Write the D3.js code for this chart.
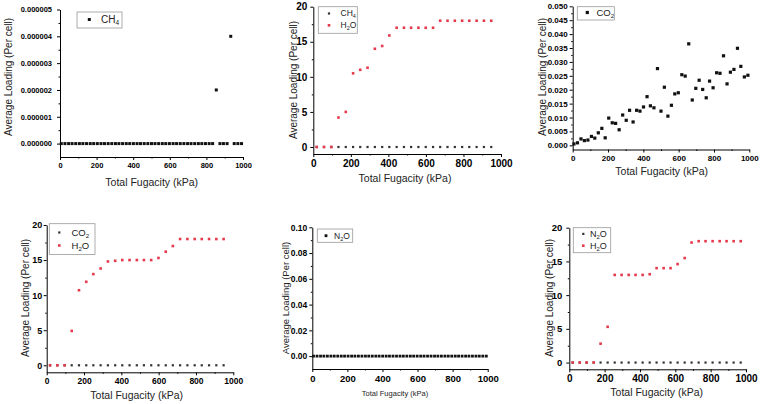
<!DOCTYPE html>
<html>
<head>
<meta charset="utf-8">
<script src="https://cdn.jsdelivr.net/npm/d3@7"></script>
<style>
  body { margin: 0; background: #fff; }
  svg { display: block; font-family: "Liberation Sans", Arial, sans-serif; }
</style>
</head>
<body>
<svg id="chart" width="760" height="404"></svg>
<script>
// ---- data ----
// fine fugacity grid (kPa), 51 points
const xFine = [7, 27, 47, 66, 86, 106, 125, 145, 165, 184, 204, 224, 243, 263, 283, 303, 322,
  342, 362, 381, 401, 421, 440, 460, 480, 500, 519, 539, 559, 578, 598, 618, 637, 657,
  677, 697, 716, 736, 756, 775, 795, 815, 834, 854, 874, 893, 913, 933, 952, 972, 992];
// coarse grids (kPa), 25 points
const xCoarseA = [18, 57, 96, 134, 173, 212, 250, 289, 328, 367, 405, 444, 483, 521, 560,
  599, 638, 676, 715, 754, 793, 831, 870, 909, 948];
const xCoarseB = [19, 59, 98, 138, 177, 217, 257, 296, 336, 375, 415, 455, 494, 534, 573,
  613, 653, 692, 732, 771, 811, 851, 890, 930, 970];

// (a) pure CH4
const ch4Pure = [0, 0, 0, 0, 0, 0, 0, 0, 0, 0, 0, 0, 0, 0, 0, 0, 0, 0, 0, 0, 0, 0, 0, 0, 0,
  0, 0, 0, 0, 0, 0, 0, 0, 0, 0, 0, 0, 0, 0, 0, 0, 0, 0, 0.000002, 0, 0, 0, 0.000004, 0, 0, 0];
// (b) CH4 / H2O mixture
const ch4Mix = [0, 0, 0, 0, 0, 0, 0, 0, 0, 0, 0, 0, 0, 0, 0, 0, 0, 0, 0, 0, 0, 0, 0, 0, 0];
const h2oWithCh4 = [0, 0, 0, 4.2, 5.0, 10.5, 11.0, 11.3, 14.0, 14.4, 15.9, 17, 17, 17, 17, 17,
  17, 18, 18, 18, 18, 18, 18, 18, 18];
// (c) pure CO2
const co2Pure = [0.0005, 0.0009, 0.0023, 0.0017, 0.0019, 0.0032, 0.0026, 0.0045, 0.0061, 0.0027,
  0.0098, 0.0081, 0.0079, 0.0056, 0.0109, 0.0090, 0.0126, 0.0084, 0.0126, 0.0123, 0.0138,
  0.0175, 0.0142, 0.0135, 0.0276, 0.0123, 0.0209, 0.0105, 0.0144, 0.0185, 0.0189, 0.0254,
  0.0249, 0.0365, 0.0163, 0.0205, 0.0234, 0.0201, 0.0171, 0.0231, 0.0207, 0.0261, 0.0259,
  0.0322, 0.0221, 0.0263, 0.0273, 0.0349, 0.0284, 0.0246, 0.0252];
// (d) CO2 / H2O mixture
const co2Mix = [0, 0, 0, 0, 0, 0, 0, 0, 0, 0, 0, 0, 0, 0, 0, 0, 0, 0, 0, 0, 0, 0, 0, 0, 0];
const h2oWithCo2 = [0, 0, 0, 4.9, 10.7, 11.9, 13.0, 13.8, 14.8, 14.9, 15.0, 15.0, 15.0, 15.0,
  15.0, 15.3, 16.2, 17.0, 18, 18, 18, 18, 18, 18, 18];
// (e) pure N2O
const n2oPure = [0, 0, 0, 0, 0, 0, 0, 0, 0, 0, 0, 0, 0, 0, 0, 0, 0, 0, 0, 0, 0, 0, 0, 0, 0,
  0, 0, 0, 0, 0, 0, 0, 0, 0, 0, 0, 0, 0, 0, 0, 0, 0, 0, 0, 0, 0, 0, 0, 0, 0, 0];
// (f) N2O / H2O mixture
const n2oMix = [0, 0, 0, 0, 0, 0, 0, 0, 0, 0, 0, 0, 0, 0, 0, 0, 0, 0, 0, 0, 0, 0, 0, 0, 0];
const h2oWithN2o = [0, 0, 0, 0, 2.8, 5.3, 13, 13, 13, 13, 13, 13.1, 14, 14, 14, 14.6, 15.5,
  17.8, 18, 18, 18, 18, 18, 18, 18];

// tick values
const xTicks = [0, 200, 400, 600, 800, 1000];
const xMinor = [100, 300, 500, 700, 900];
const yTicksSmall = [0, 0.000001, 0.000002, 0.000003, 0.000004, 0.000005];
const yTicksCo2 = [0, 0.005, 0.010, 0.015, 0.020, 0.025, 0.030, 0.035, 0.040, 0.045, 0.050];
const yTicksN2o = [0, 0.02, 0.04, 0.06, 0.08, 0.10];
const yTicksH2o = [0, 5, 10, 15, 20];

// legend labels, split into [text, isSubscript]
const lblCH4 = [["CH", false], ["4", true]];
const lblCO2 = [["CO", false], ["2", true]];
const lblN2O = [["N", false], ["2", true], ["O", false]];
const lblH2O = [["H", false], ["2", true], ["O", false]];

const BLACK = "#111";
const GREY = "#333";
const RED = "#e63a4c";

const svg = d3.select("#chart");

function midpoints(arr) {
  const out = [];
  for (let i = 0; i < arr.length - 1; i++) out.push((arr[i] + arr[i + 1]) / 2);
  return out;
}

function drawPanel(p) {
  const x = d3.scaleLinear().domain([0, 1000]).range([p.x0, p.x1]);
  const y = d3.scaleLinear().domain(p.yDomain).range([p.yB, p.yT]);
  const g = svg.append("g");

  // bottom axis + minor ticks
  const xa = g.append("g").attr("transform", `translate(0,${p.yB})`)
    .call(d3.axisBottom(x).tickValues(xTicks).tickSize(3).tickSizeOuter(0)
      .tickPadding(p.xPad).tickFormat(d3.format("d")));
  g.append("g").attr("transform", `translate(0,${p.yB})`)
    .call(d3.axisBottom(x).tickValues(xMinor).tickSize(1.5).tickFormat(""))
    .select(".domain").remove();

  // left axis + minor ticks
  const ya = g.append("g").attr("transform", `translate(${p.x0},0)`)
    .call(d3.axisLeft(y).tickValues(p.yTicks).tickSize(3).tickSizeOuter(0)
      .tickPadding(p.yPad).tickFormat(d3.format(p.yFmt)));
  g.append("g").attr("transform", `translate(${p.x0},0)`)
    .call(d3.axisLeft(y).tickValues(midpoints(p.yTicks)).tickSize(1.5).tickFormat(""))
    .select(".domain").remove();

  g.selectAll(".domain").attr("stroke", "#000").attr("stroke-width", 1);
  g.selectAll(".tick line").attr("stroke", "#000");
  xa.selectAll("text").attr("font-size", p.xTickFont);
  ya.selectAll("text").attr("font-size", p.yTickFont);
  [xa, ya].forEach(a => a.selectAll("text")
    .attr("font-family", "'Liberation Sans', Arial, sans-serif")
    .attr("font-weight", "bold").attr("fill", "#000"));

  // axis titles
  g.append("text")
    .attr("x", p.xTitle[0]).attr("y", p.xTitle[1])
    .attr("text-anchor", "middle").attr("dominant-baseline", "central")
    .attr("font-size", p.xTitleFont).attr("fill", "#222")
    .text("Total Fugacity (kPa)");
  g.append("text")
    .attr("transform", `translate(${p.yTitle[0]},${p.yTitle[1]}) rotate(-90)`)
    .attr("text-anchor", "middle").attr("dominant-baseline", "central")
    .attr("font-size", p.yTitleFont).attr("fill", "#222")
    .text("Average Loading (Per cell)");

  // series markers
  p.series.forEach(s => {
    g.append("g").selectAll("rect")
      .data(s.xs.map((xv, i) => [xv, s.ys[i]]))
      .join("rect")
      .attr("x", d => x(d[0]) - s.size / 2)
      .attr("y", d => y(d[1]) - s.size / 2)
      .attr("width", s.size).attr("height", s.size)
      .attr("fill", s.color);
  });

  // legend
  const L = p.legend;
  g.append("rect")
    .attr("x", L.x).attr("y", L.y).attr("width", L.w).attr("height", L.h)
    .attr("fill", "#fff").attr("stroke", "#9a9a9a").attr("stroke-width", 0.8);
  p.series.forEach((s, i) => {
    const cy = L.y + L.rowY[i];
    g.append("rect")
      .attr("x", L.mx - s.size / 2).attr("y", cy - s.size / 2)
      .attr("width", s.size).attr("height", s.size).attr("fill", s.color);
    const t = g.append("text")
      .attr("x", L.tx).attr("y", cy + L.font * 0.35)
      .attr("font-size", L.font).attr("fill", "#222");
    let shifted = false;
    s.label.forEach(([txt, sub]) => {
      const ts = t.append("tspan").text(txt);
      if (sub && !shifted) { ts.attr("dy", L.font * 0.22).attr("font-size", L.font * 0.65); shifted = true; }
      else if (!sub && shifted) { ts.attr("dy", -L.font * 0.22); shifted = false; }
    });
  });
}

const panels = [
  { x0: 60, x1: 243, yB: 157, yT: 9.5, yDomain: [-0.0000005, 0.000005],
    yTicks: yTicksSmall, yFmt: ".6f", xTickFont: 7.5, yTickFont: 7.5, xPad: 3, yPad: 5,
    xTitle: [151.7, 182], xTitleFont: 10.5, yTitle: [8.5, 77], yTitleFont: 10,
    legend: { x: 77, y: 12, w: 45, h: 16, mx: 89.3, tx: 101, rowY: [7.5], font: 10 },
    series: [{ xs: xFine, ys: ch4Pure, color: BLACK, size: 3, label: lblCH4 }] },
  { x0: 313.3, x1: 501, yB: 154, yT: 6.7, yDomain: [-1, 20],
    yTicks: yTicksH2o, yFmt: "d", xTickFont: 10, yTickFont: 10, xPad: 3, yPad: 3,
    xTitle: [405, 178], xTitleFont: 10.5, yTitle: [293.5, 80], yTitleFont: 10,
    legend: { x: 318.3, y: 6.7, w: 39, h: 26.6, mx: 329, tx: 340.5, rowY: [6.8, 18.6], font: 8.5 },
    series: [{ xs: xCoarseA, ys: ch4Mix, color: GREY, size: 2.2, label: lblCH4 },
             { xs: xCoarseA, ys: h2oWithCh4, color: RED, size: 2.6, label: lblH2O }] },
  { x0: 572.7, x1: 749.3, yB: 149.5, yT: 6.3, yDomain: [-0.0015, 0.05],
    yTicks: yTicksCo2, yFmt: ".3f", xTickFont: 8, yTickFont: 8, xPad: 3, yPad: 2,
    xTitle: [661.7, 171], xTitleFont: 10.5, yTitle: [542.3, 77], yTitleFont: 10,
    legend: { x: 577.3, y: 6.7, w: 37, h: 13.3, mx: 587.3, tx: 596.5, rowY: [5.8], font: 9.5 },
    series: [{ xs: xFine, ys: co2Pure, color: BLACK, size: 3.2, label: lblCO2 }] },
  { x0: 46.7, x1: 233.3, yB: 372.3, yT: 225, yDomain: [-1, 20],
    yTicks: yTicksH2o, yFmt: "d", xTickFont: 8.5, yTickFont: 9, xPad: 3, yPad: 1.5,
    xTitle: [136.7, 395], xTitleFont: 10.5, yTitle: [25, 298], yTitleFont: 10,
    legend: { x: 49.3, y: 223.7, w: 45.7, h: 30.8, mx: 59.3, tx: 71.5, rowY: [8.8, 21.8], font: 9.5 },
    series: [{ xs: xCoarseA, ys: co2Mix, color: GREY, size: 2.2, label: lblCO2 },
             { xs: xCoarseA, ys: h2oWithCo2, color: RED, size: 2.6, label: lblH2O }] },
  { x0: 312.3, x1: 487.7, yB: 369, yT: 227.3, yDomain: [-0.01, 0.1],
    yTicks: yTicksN2o, yFmt: ".2f", xTickFont: 9.5, yTickFont: 8.5, xPad: 3, yPad: 2,
    xTitle: [395, 393], xTitleFont: 7.5, yTitle: [285.7, 298], yTitleFont: 9.5,
    legend: { x: 317.3, y: 229, w: 35.4, h: 13.3, mx: 326, tx: 334, rowY: [6.7], font: 8.5 },
    series: [{ xs: xFine, ys: n2oPure, color: BLACK, size: 2.8, label: lblN2O }] },
  { x0: 569.3, x1: 746, yB: 369.3, yT: 227.7, yDomain: [-1, 20],
    yTicks: yTicksH2o, yFmt: "d", xTickFont: 10, yTickFont: 9.5, xPad: 3, yPad: 4,
    xTitle: [656.7, 392.3], xTitleFont: 10.5, yTitle: [549.3, 298], yTitleFont: 10,
    legend: { x: 573.3, y: 227.7, w: 37.4, h: 25, mx: 583.3, tx: 590, rowY: [6.2, 18], font: 9 },
    series: [{ xs: xCoarseB, ys: n2oMix, color: GREY, size: 2.2, label: lblN2O },
             { xs: xCoarseB, ys: h2oWithN2o, color: RED, size: 2.6, label: lblH2O }] }
];

panels.forEach(drawPanel);
</script>
</body>
</html>
